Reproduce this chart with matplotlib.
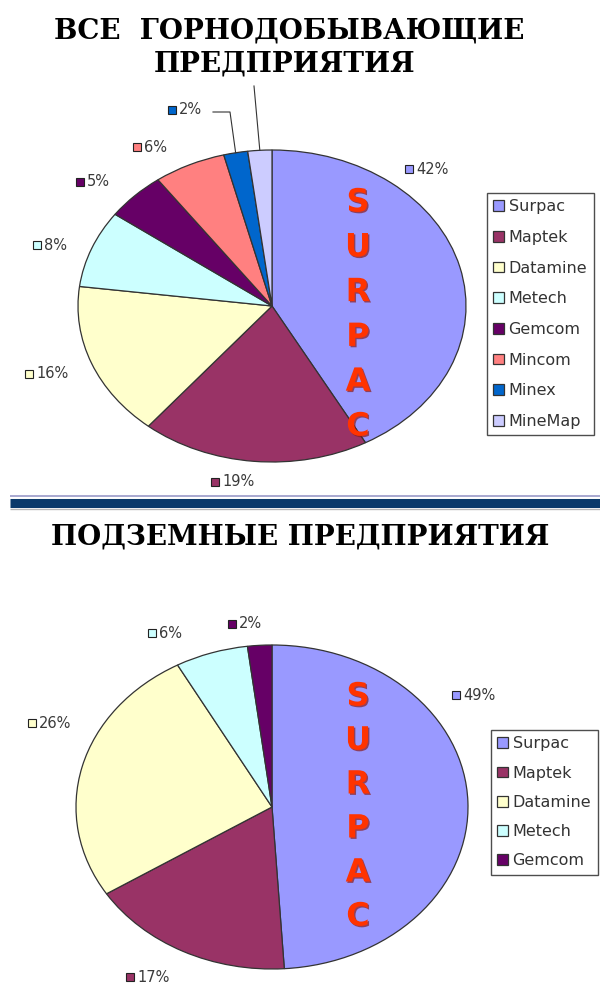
import matplotlib.pyplot as plt
import matplotlib.patheffects as pe
import numpy as np

W, H = 600, 983

# --- data ---
companies_all = ['Surpac', 'Maptek', 'Datamine', 'Metech', 'Gemcom', 'Mincom', 'Minex', 'MineMap']
shares_all = [42, 19, 16, 8, 5, 6, 2, 2]
colors_all = ['#9999ff', '#993366', '#ffffcc', '#ccffff', '#660066', '#ff8080', '#0066cc', '#ccccff']

companies_ug = ['Surpac', 'Maptek', 'Datamine', 'Metech', 'Gemcom']
shares_ug = [49, 17, 26, 6, 2]
colors_ug = colors_all[:5]

# where the value labels sit (pixels, key square centre); None = label hidden
lab_all = [(409, 169), (215, 482), (29, 374), (37, 245), (80, 182), (137, 147), (172, 110), None]
lab_ug = [(456, 695), (130, 977), (32, 723), (152, 633), (232, 624)]

fig = plt.figure(figsize=(W / 100, H / 100), dpi=100)


def draw_pie(cx, cy, rx, ry, shares, colors):
    ax = fig.add_axes([(cx - rx) / W, 1 - (cy + ry) / H, 2 * rx / W, 2 * ry / H])
    wedges, _ = ax.pie(shares, colors=colors, startangle=90, counterclock=False,
                       radius=1, wedgeprops=dict(edgecolor='#333333', linewidth=0.9))
    ax.set_aspect('auto')
    ax.set_xlim(-1, 1)
    ax.set_ylim(-1, 1)
    for w in wedges:
        w.set_clip_on(False)
    return wedges


def rim(w, cx, cy, rx, ry):
    a = np.deg2rad((w.theta1 + w.theta2) / 2)
    return cx + rx * np.cos(a), cy - ry * np.sin(a)


top = (272, 306, 194, 156)
bot = (272, 807, 196, 162)
w_all = draw_pie(*top, shares_all, colors_all)
w_ug = draw_pie(*bot, shares_ug, colors_ug)

ov = fig.add_axes([0, 0, 1, 1])
ov.set_xlim(0, W)
ov.set_ylim(H, 0)
ov.axis('off')


def value_labels(shares, colors, pos):
    for v, c, p in zip(shares, colors, pos):
        if p is None:
            continue
        ov.plot(p[0], p[1], marker='s', ms=6, mfc=c, mec='#222222', mew=0.8)
        ov.text(p[0] + 7, p[1], f'{v}%', fontsize=10.5, color='#3a3a3a',
                ha='left', va='center')


value_labels(shares_all, colors_all, lab_all)
value_labels(shares_ug, colors_ug, lab_ug)

# leader lines for the thin slices at the top
mx, my = rim(w_all[6], *top)
ov.plot([213, 230, mx], [112, 112, my], color='#333333', lw=0.8)
mx, my = rim(w_all[7], *top)
ov.plot([254, mx], [86, my], color='#333333', lw=0.8)

# titles
tkw = dict(family='DejaVu Serif', fontweight='bold', fontsize=20, ha='center', va='center')
ov.text(289, 31, 'ВСЕ  ГОРНОДОБЫВАЮЩИЕ', **tkw)
ov.text(285, 64, 'ПРЕДПРИЯТИЯ', **tkw)
ov.text(300, 537, 'ПОДЗЕМНЫЕ ПРЕДПРИЯТИЯ', **tkw)

# separator
ov.plot([10, W], [496, 496], color='#9a9ac8', lw=1.2, solid_capstyle='butt')
ov.plot([10, W], [502.5, 502.5], color='#0b3a6b', lw=6.5, solid_capstyle='butt')
ov.plot([10, W], [509, 509], color='#b8b8b8', lw=1.0, solid_capstyle='butt')

# vertical SURPAC
shadow = [pe.withSimplePatchShadow(offset=(1.0, -1.0), shadow_rgbFace='#8b1a1a', alpha=0.7)]
for i, ch in enumerate('SURPAC'):
    for y0, step in ((203, 44.8), (697, 44)):
        ov.text(358, y0 + i * step, ch, fontsize=23, fontweight='bold', color='#ff3300',
                ha='center', va='center', path_effects=shadow)

# legends
lkw = dict(loc='upper left', bbox_transform=ov.transData, frameon=True, fancybox=False,
           edgecolor='#222222', fontsize=11.5, handlelength=0.65, handleheight=0.65,
           handletextpad=0.3, borderpad=0.4, borderaxespad=0, labelcolor='#333333')
leg1 = ov.legend(w_all, companies_all, bbox_to_anchor=(487, 193), labelspacing=0.98, **lkw)
leg1.get_frame().set_linewidth(1.0)
ov.add_artist(leg1)
leg2 = ov.legend(w_ug, companies_ug, bbox_to_anchor=(491, 730), labelspacing=0.89, **lkw)
leg2.get_frame().set_linewidth(1.0)

fig.savefig('out.png', dpi=100)
